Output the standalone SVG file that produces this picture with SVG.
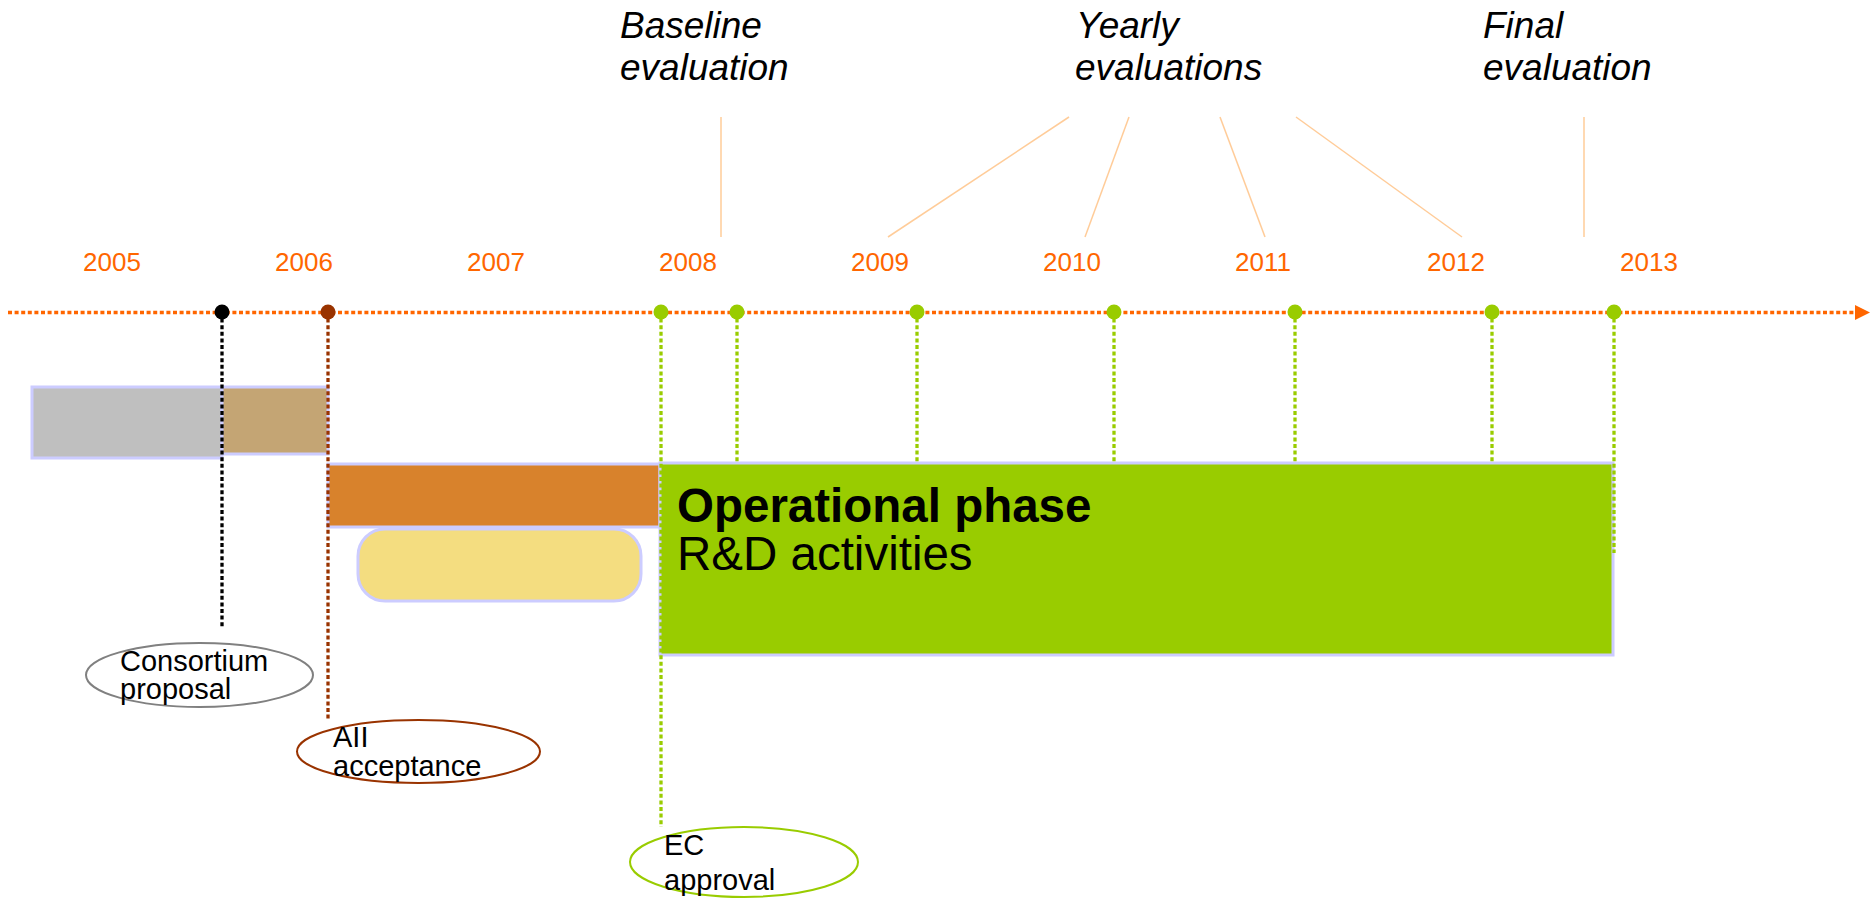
<svg xmlns="http://www.w3.org/2000/svg" width="1873" height="898" viewBox="0 0 1873 898">
<style>
.yr{font-family:"Liberation Sans",Arial,sans-serif;font-size:26px;fill:#FF6600}
.ev{font-family:"Liberation Sans",Arial,sans-serif;font-size:37px;font-style:italic;fill:#000}
.lbl{font-family:"Liberation Sans",Arial,sans-serif;font-size:29px;fill:#000}
.box{stroke:#CCCCFF;stroke-width:3}
.evl{stroke:#FFCC99;stroke-width:1.5;fill:none}
.drop{stroke-width:3.3;stroke-dasharray:4 2.6;fill:none}
.g{stroke:#99CC00}
</style>
<rect width="1873" height="898" fill="#fff"/>
<g id="bars">
<rect id="bar-gray" class="box" x="32" y="387" width="190" height="71" fill="#BFBFBF"/>
<rect id="bar-tan" class="box" x="222" y="387" width="106" height="67" fill="#C4A574"/>
<rect id="bar-orange" class="box" x="328" y="464" width="332" height="63" fill="#D8822C"/>
<rect id="bar-yellow" class="box" x="358" y="529" width="283" height="72" rx="27" ry="27" fill="#F4DD80"/>
<g id="operational">
<rect class="box" x="660" y="463" width="953" height="192" fill="#99CC00"/>
<text font-family="Liberation Sans,Arial,sans-serif" font-size="47.5"><tspan x="677" y="522" font-weight="bold">Operational phase</tspan><tspan x="677" y="570">R&amp;D activities</tspan></text>
</g>
</g>
<g id="years">
<text class="yr" x="83" y="271">2005</text>
<text class="yr" x="275" y="271">2006</text>
<text class="yr" x="467" y="271">2007</text>
<text class="yr" x="659" y="271">2008</text>
<text class="yr" x="851" y="271">2009</text>
<text class="yr" x="1043" y="271">2010</text>
<text class="yr" x="1235" y="271">2011</text>
<text class="yr" x="1427" y="271">2012</text>
<text class="yr" x="1620" y="271">2013</text>
</g>
<g id="evaluations">
<g id="eval-baseline"><text class="ev"><tspan x="620" y="38">Baseline</tspan><tspan x="620" y="80">evaluation</tspan></text></g>
<g id="eval-yearly"><text class="ev"><tspan x="1076" y="38">Yearly</tspan><tspan x="1075" y="80">evaluations</tspan></text></g>
<g id="eval-final"><text class="ev"><tspan x="1483" y="38">Final</tspan><tspan x="1483" y="80">evaluation</tspan></text></g>
</g>
<g id="connectors">
<line class="evl" x1="721" y1="117" x2="721" y2="237"/>
<line class="evl" x1="1069" y1="117" x2="888" y2="237"/>
<line class="evl" x1="1129" y1="117" x2="1085" y2="237"/>
<line class="evl" x1="1220" y1="117" x2="1265" y2="237"/>
<line class="evl" x1="1296" y1="117" x2="1462" y2="237"/>
<line class="evl" x1="1584" y1="117" x2="1584" y2="237"/>
<line class="drop" stroke="#000" x1="222" y1="312" x2="222" y2="628"/>
<line class="drop" stroke="#993300" x1="328" y1="312" x2="328" y2="720"/>
<line class="drop g" x1="661" y1="312" x2="661" y2="827"/>
<line class="drop g" x1="737" y1="312" x2="737" y2="463"/>
<line class="drop g" x1="917" y1="312" x2="917" y2="463"/>
<line class="drop g" x1="1114" y1="312" x2="1114" y2="463"/>
<line class="drop g" x1="1295" y1="312" x2="1295" y2="463"/>
<line class="drop g" x1="1492" y1="312" x2="1492" y2="463"/>
<line class="drop g" x1="1614" y1="312" x2="1614" y2="553"/>
<line stroke="#FF6600" stroke-width="3.3" stroke-dasharray="4 2.6" x1="8" y1="312.5" x2="1856" y2="312.5"/>
<polygon points="1855,305 1870,312.5 1855,320" fill="#FF6600"/>
<circle cx="222" cy="312" r="7.5" fill="#000"/>
<circle cx="328" cy="312" r="7.5" fill="#993300"/>
<circle cx="661" cy="312" r="7.5" fill="#99CC00"/>
<circle cx="737" cy="312" r="7.5" fill="#99CC00"/>
<circle cx="917" cy="312" r="7.5" fill="#99CC00"/>
<circle cx="1114" cy="312" r="7.5" fill="#99CC00"/>
<circle cx="1295" cy="312" r="7.5" fill="#99CC00"/>
<circle cx="1492" cy="312" r="7.5" fill="#99CC00"/>
<circle cx="1614" cy="312" r="7.5" fill="#99CC00"/>
</g>
<g id="consortium">
<ellipse cx="199.5" cy="675" rx="113.5" ry="32" fill="none" stroke="#808080" stroke-width="2"/>
<text class="lbl" font-size="28"><tspan x="120" y="671">Consortium</tspan><tspan x="120" y="699">proposal</tspan></text>
</g>
<g id="aii">
<ellipse cx="418.5" cy="751.5" rx="121.5" ry="31.5" fill="none" stroke="#993300" stroke-width="2"/>
<text class="lbl"><tspan x="333" y="747">AII</tspan><tspan x="333" y="776">acceptance</tspan></text>
</g>
<g id="ec">
<ellipse cx="744" cy="862" rx="114" ry="35" fill="none" stroke="#99CC00" stroke-width="2"/>
<text class="lbl"><tspan x="664" y="855">EC</tspan><tspan x="664" y="890">approval</tspan></text>
</g>
</svg>
